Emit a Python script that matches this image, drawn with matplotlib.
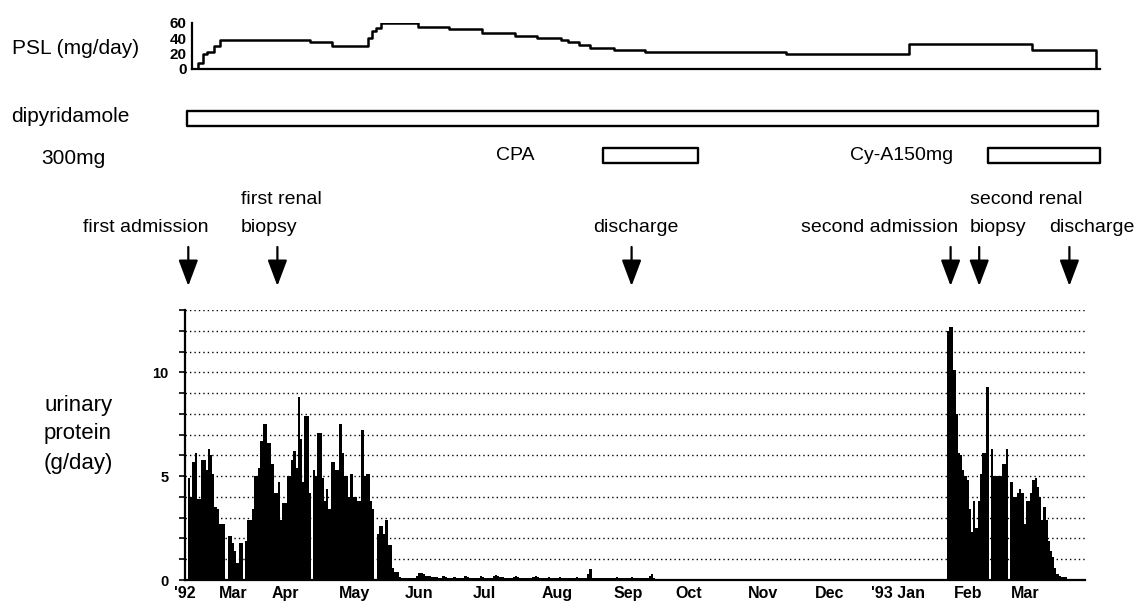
import matplotlib
matplotlib.use("Agg")
import matplotlib.pyplot as plt
import numpy as np

plt.rcParams['font.family'] = ['Liberation Sans', 'DejaVu Sans']
NARROW = ['Liberation Sans Narrow', 'Liberation Sans', 'DejaVu Sans']

# urinary protein (g/day), one value per day; day 0 = start of the axis
protein_a_start = 0
protein_a = [4.9, 4.0, 5.7, 6.1, 3.9, 3.9, 5.8, 5.8, 5.3, 6.3,
             6.0, 5.1, 3.5, 3.4, 2.7, 2.7, 2.7, 0, 2.1, 2.1,
             1.8, 1.4, 0.8, 1.8, 1.8, 0, 1.9, 2.9, 2.9, 3.4,
             5.0, 5.0, 5.4, 6.7, 7.5, 7.5, 6.6, 6.6, 5.6, 4.2,
             4.2, 4.7, 2.9, 3.7, 3.7, 5.0, 5.0, 5.8, 6.2, 5.4,
             8.8, 6.8, 4.7, 7.9, 7.9, 4.2, 0, 5.3, 5.0, 7.1,
             7.1, 4.9, 3.8, 4.4, 3.4, 5.7, 5.7, 5.3, 5.3, 7.5,
             6.1, 5.0, 5.0, 4.0, 5.1, 4.0, 4.0, 3.8, 3.8, 7.2,
             5.0, 5.1, 5.1, 3.8, 3.4, 0, 2.2, 2.6, 2.6, 2.2,
             2.9, 1.7, 1.7, 0.6, 0.4, 0.4]
protein_low_start = 96
protein_low = [.15, .12, .12, .12, .12, .12, .12, .12, .2, .32,
               .32, .3, .2, .17, .17, .15, .15, .15, .12, .12,
               .2, .15, .12, .12, .12, .15, .12, .12, .12, .12,
               .2, .15, .12, .12, .12, .12, .12, .2, .15, .12,
               .12, .12, .12, .2, .25, .2, .15, .15, .12, .12,
               .12, .12, .15, .2, .15, .12, .12, .12, .12, .12,
               .12, .15, .2, .15, .12, .12, .12, .12, .15, .12,
               .12, .12, .12, .15, .12, .1, .1, .12, .12, .1,
               .1, .15, .12, .1, .1, .12, .3, .55, .12, .1,
               .1, .1, .12, .1, .1, .1, .12, .1, .1, .15,
               .1, .1, .12, .1, .1, .1, .15, .1, .1, .1,
               .1, .12, .1, .1, .2, .3, .1]
protein_b_start = 346
protein_b = [12.0, 12.2, 12.2, 10.1, 8.0, 6.1, 6.0, 5.3, 5.0, 4.8,
             3.4, 2.3, 3.8, 2.5, 3.8, 5.1, 6.1, 6.1, 9.3, 0,
             6.3, 5.0, 5.0, 5.0, 5.0, 5.6, 5.6, 6.3, 0, 4.7,
             4.0, 4.0, 4.2, 4.4, 4.2, 2.7, 3.8, 3.8, 4.2, 4.8,
             4.9, 4.5, 4.0, 2.9, 3.5, 2.9, 1.9, 1.4, 1.1, 0.6,
             0.3, 0.2, 0.15, 0.15, 0.15]

# PSL dose steps (day where the dose starts, mg/day)
psl_day = [3, 6, 8, 10, 13, 16, 57, 67, 83, 85, 87, 89, 106, 120, 135,
           150, 160, 171, 174, 179, 184, 195, 209, 273, 329, 385, 414]
psl_mg = [0, 8, 20, 22, 30, 38, 35, 30, 40, 50, 53, 60, 55, 52, 47,
          43, 40, 37.5, 35, 31, 28, 25, 22, 19, 32, 25, 0]

# other drugs (start day, end day)
dipyridamole = (1, 415)
cpa = (190, 233)
cya = (365, 416)

# events: first admission, first biopsy, discharge, second admission,
# second biopsy, discharge
event_day = [1.5, 42, 203, 348, 361, 402]

months = ["'92", "Mar", "Apr", "May", "Jun", "Jul", "Aug", "Sep", "Oct",
          "Nov", "Dec", "'93 Jan", "Feb", "Mar"]
month_day = [-1.4, 20.5, 44.5, 75.9, 105.5, 135, 168.2, 200.9, 228.2,
             262.3, 292.3, 323.6, 355.5, 381.8]

W, H = 1135, 602
PXD = 2.2      # pixels per day
X0 = 185       # pixel of day 0

fig = plt.figure(figsize=(W / 100, H / 100), dpi=100)


def axes_px(left, top, right, bottom):
    return fig.add_axes([left / W, 1 - bottom / H, (right - left) / W, (bottom - top) / H])


# ---- urinary protein panel (daily bars drawn as one stepped fill)
ax = axes_px(185, 310, 1085, 580)
for start, vals in [(protein_a_start, protein_a), (protein_low_start, protein_low),
                    (protein_b_start, protein_b)]:
    edges = start + np.arange(len(vals) + 1)
    ax.fill_between(edges, list(vals) + [vals[-1]], step='post',
                    color='black', linewidth=0, zorder=3)
ax.set_xlim(0, 409)
ax.set_ylim(0, 13)
ax.set_yticks(range(14))
ax.set_yticklabels(['0', '', '', '', '', '5', '', '', '', '', '10', '', '', ''],
                   fontsize=10.5, fontweight='bold')
ax.yaxis.grid(True, linestyle=(0, (1, 2.2)), color='black', linewidth=1.0, zorder=0)
ax.tick_params(axis='y', direction='out', length=4, width=1.2, pad=8)
ax.set_xticks(month_day)
ax.set_xticklabels(months, fontsize=11.5, fontweight='bold')
ax.tick_params(axis='x', length=0, pad=4)
for t in ax.get_xticklabels():
    t.set_clip_on(False)
for s in ['top', 'right']:
    ax.spines[s].set_visible(False)
for s in ['left', 'bottom']:
    ax.spines[s].set_linewidth(1.6)

# ---- PSL panel
ap = axes_px(192, 23, 1100, 69)
ap.step(psl_day, psl_mg, where='post', color='black', linewidth=1.8)
ap.set_xlim((192 - X0) / PXD, (1100 - X0) / PXD)
ap.set_ylim(0, 60)
ap.set_xticks([])
ap.set_yticks([0, 20, 40, 60])
ap.set_yticklabels(['0', '20', '40', '60'], fontsize=11, fontweight='bold')
ap.tick_params(axis='y', length=0, pad=4)
for s in ['top', 'right']:
    ap.spines[s].set_visible(False)
for s in ['left', 'bottom']:
    ap.spines[s].set_linewidth(1.6)
ap.patch.set_alpha(0)

# ---- overlay: drugs, events, labels (x in days, y in pixel rows)
ov = fig.add_axes([0, 0, 1, 1], zorder=5)
ov.set_xlim(-X0 / PXD, (W - X0) / PXD)
ov.set_ylim(H, 0)
ov.axis('off')
ov.patch.set_alpha(0)

ov.broken_barh([(dipyridamole[0], dipyridamole[1] - dipyridamole[0])], (111, 15),
               facecolors='white', edgecolors='black', linewidth=1.7)
ov.broken_barh([(cpa[0], cpa[1] - cpa[0]), (cya[0], cya[1] - cya[0])], (148, 15),
               facecolors='white', edgecolors='black', linewidth=1.7)

for d in event_day:
    ov.annotate('', xy=(d, 286), xytext=(d, 247),
                arrowprops=dict(arrowstyle='-|>,head_length=0.8,head_width=0.3',
                                mutation_scale=20, color='black', lw=1.6,
                                shrinkA=0, shrinkB=0))


def px_x(p):
    return (p - X0) / PXD


ov.text(px_x(12), 49, 'PSL (mg/day)', fontsize=15, va='center', ha='left')
ov.text(px_x(11), 117, 'dipyridamole', fontsize=15, va='center', ha='left')
ov.text(px_x(73), 158, '300mg', fontsize=15, va='center', ha='center')
ov.text(px_x(515), 156, 'CPA', fontsize=14, va='center', ha='center')
ov.text(px_x(902), 156, 'Cy-A150mg', fontsize=14, va='center', ha='center')
for y, s in [(405, 'urinary'), (434, 'protein'), (464, '(g/day)')]:
    ov.text(px_x(44), y, s, fontsize=16, va='center', ha='left')

kw = dict(family=NARROW, fontsize=14, va='center')
ov.text(px_x(146), 228, 'first admission', ha='center', **kw)
ov.text(px_x(241), 200, 'first renal', ha='left', **kw)
ov.text(px_x(241), 228, 'biopsy', ha='left', **kw)
ov.text(px_x(636), 228, 'discharge', ha='center', **kw)
ov.text(px_x(880), 228, 'second admission', ha='center', **kw)
ov.text(px_x(970), 200, 'second renal', ha='left', **kw)
ov.text(px_x(970), 228, 'biopsy', ha='left', **kw)
ov.text(px_x(1092), 228, 'discharge', ha='center', **kw)

fig.savefig('out.png', dpi=100)
